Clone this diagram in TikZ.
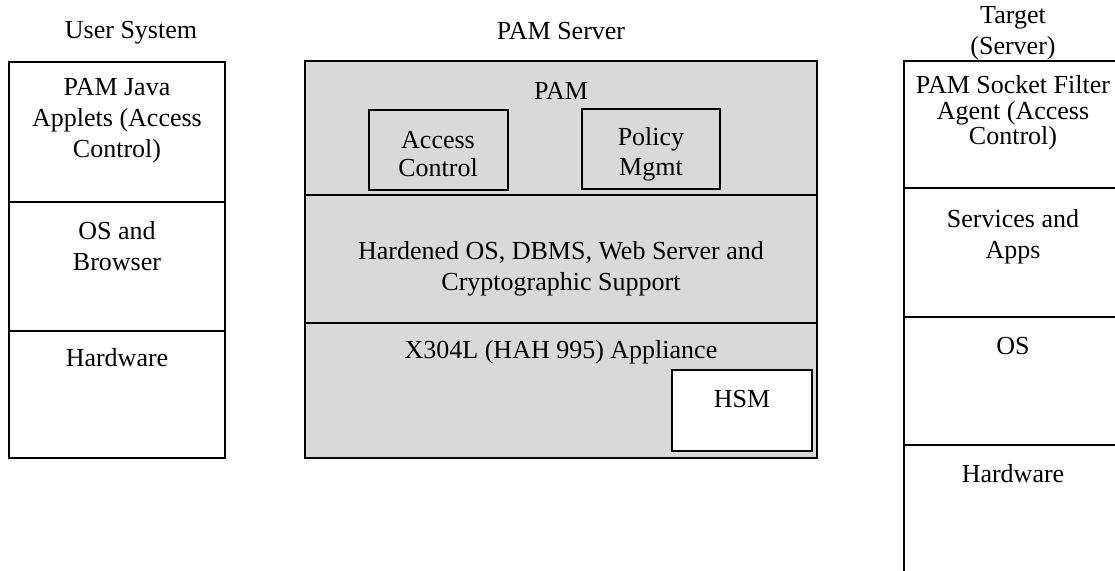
\documentclass[tikz,border=0pt]{standalone}
\usepackage{fontspec}
\setmainfont{Liberation Serif}
\usetikzlibrary{positioning}
\definecolor{srvgray}{HTML}{D9D9D9}

\begin{document}
\begin{tikzpicture}[x=0.5pt,y=-0.5pt,
  every node/.style={font=\fontsize{13}{15.5}\selectfont, align=center, inner sep=0pt},
  layer/.style={draw=black, line width=1pt},
  inbox/.style={draw=black, line width=1pt}]
  \path[use as bounding box, clip] (0,0) rectangle (1115,571);

  % user system
  \node (usr) at (131,33) {User System};
  \foreach \ya/\yb in {62/202,202/331,331/458}
    \draw[layer] (9,\ya) rectangle (225,\yb);
  \node (usrapp) at (117,121) {PAM Java\\Applets (Access\\Control)};
  \node (usros) at (117,246) {OS and\\Browser};
  \node (usrhw) at (117,358) {Hardware};

  % PAM server
  \node (srv) at (561,31) {PAM Server};
  \foreach \ya/\yb in {61/195,195/323,323/458}
    \draw[layer, fill=srvgray] (305,\ya) rectangle (817,\yb);
  \node (pam) at (561,91) {PAM};
  \node[inbox, minimum width=69.5pt, minimum height=40pt] (acc) at (438,150.5) {};
  \node[font=\fontsize{13}{14}\selectfont] (acctxt) at ([yshift=-2pt]acc.center) {Access\\Control};
  \node[inbox, minimum width=69pt, minimum height=40pt] (pol) at (651,149) {};
  \node[font=\fontsize{13}{15}\selectfont] (poltxt) at ([yshift=-2.5pt]pol.center) {Policy\\Mgmt};
  \node (hard) at (561,269) {Hardened OS, DBMS, Web Server and\\Cryptographic Support};
  \node (appl) at (561,352) {X304L (HAH 995) Appliance};
  \node[inbox, fill=white, minimum width=70pt, minimum height=40.5pt] (hsm) at (742,410.5) {};
  \node[below=10.25pt of hsm.north] (hsmtxt) {HSM};

  % target server
  \node (tgt) at (1013,33.5) {Target\\(Server)};
  \foreach \ya/\yb in {61/188,188/317,317/445,445/600}
    \draw[layer] (904,\ya) rectangle (1122,\yb);
  \node[font=\fontsize{13}{12.75}\selectfont] (tgtagt) at (1013,113) {PAM Socket Filter\\Agent (Access\\Control)};
  \node (tgtsvc) at (1013,237) {Services and\\Apps};
  \node (tgtos) at (1013,346) {OS};
  \node (tgthw) at (1013,474) {Hardware};
\end{tikzpicture}
\end{document}
